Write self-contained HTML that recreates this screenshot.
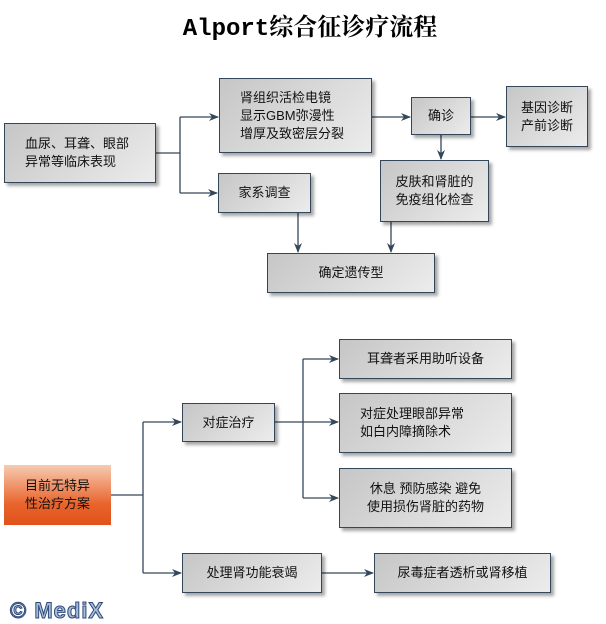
<!DOCTYPE html>
<html><head><meta charset="utf-8"><style>
body{margin:0;width:606px;height:622px;background:#fff;position:relative;overflow:hidden;font-family:"Liberation Sans","Noto Sans CJK SC",sans-serif;}
.b{position:absolute;box-sizing:border-box;border:1.5px solid #34475a;background:linear-gradient(135deg,#c6c6c6,#ececec);box-shadow:3px 3px 3px rgba(0,0,0,0.35);font-size:13px;color:#111;display:flex;align-items:center;line-height:18px;}
.c{justify-content:center;text-align:center}
.l{padding-left:20px}
svg{position:absolute;left:0;top:0}
.t{position:absolute;left:7px;width:606px;top:7px;text-align:center;font:bold 24px "Liberation Mono","Noto Serif CJK SC",monospace;letter-spacing:0px}
</style></head><body>
<div class="t">Alport综合征诊疗流程</div>
<svg width="606" height="622">
<defs><marker id="a" markerWidth="10" markerHeight="8" refX="9" refY="4" orient="auto" markerUnits="userSpaceOnUse"><path d="M0,0 L10,4 L0,8 L3,4z" fill="#34475a"/></marker></defs>
<g stroke="#34475a" stroke-width="1.3" fill="none">
<path d="M156,153 H180"/><path d="M180,117 V193"/>
<path d="M180,117 H218" marker-end="url(#a)"/><path d="M180,193 H217" marker-end="url(#a)"/>
<path d="M372,117 H410" marker-end="url(#a)"/><path d="M471,117 H505" marker-end="url(#a)"/>
<path d="M441,135 V159" marker-end="url(#a)"/>
<path d="M298,213 V252" marker-end="url(#a)"/><path d="M391,222 V252" marker-end="url(#a)"/>
<path d="M111,495 H143"/><path d="M143,422 V573"/>
<path d="M143,422 H181" marker-end="url(#a)"/><path d="M143,573 H181" marker-end="url(#a)"/>
<path d="M275,422 H338" marker-end="url(#a)"/><path d="M303,359 V498"/>
<path d="M303,359 H338" marker-end="url(#a)"/><path d="M303,498 H338" marker-end="url(#a)"/>
<path d="M322,573 H373" marker-end="url(#a)"/>
</g></svg>
<div class="b l" style="left:4px;top:123px;width:152px;height:60px">血尿、耳聋、眼部<br>异常等临床表现</div>
<div class="b l" style="left:219px;top:78px;width:153px;height:75px">肾组织活检电镜<br>显示GBM弥漫性<br>增厚及致密层分裂</div>
<div class="b c" style="left:218px;top:173px;width:93px;height:40px">家系调查</div>
<div class="b c" style="left:411px;top:97px;width:60px;height:38px">确诊</div>
<div class="b c" style="left:506px;top:86px;width:82px;height:61px">基因诊断<br>产前诊断</div>
<div class="b c" style="left:380px;top:160px;width:109px;height:62px">皮肤和肾脏的<br>免疫组化检查</div>
<div class="b c" style="left:267px;top:253px;width:168px;height:40px">确定遗传型</div>
<div class="b c" style="left:4px;top:465px;width:107px;height:60px;border:none;background:linear-gradient(#f7cbb2,#e8642c 65%,#e0521a);box-shadow:none">目前无特异<br>性治疗方案</div>
<div class="b c" style="left:182px;top:403px;width:93px;height:39px">对症治疗</div>
<div class="b c" style="left:339px;top:339px;width:173px;height:40px">耳聋者采用助听设备</div>
<div class="b l" style="left:339px;top:393px;width:173px;height:60px">对症处理眼部异常<br>如白内障摘除术</div>
<div class="b c" style="left:339px;top:468px;width:173px;height:60px">休息 预防感染 避免<br>使用损伤肾脏的药物</div>
<div class="b c" style="left:182px;top:553px;width:140px;height:40px">处理肾功能衰竭</div>
<div class="b c" style="left:374px;top:553px;width:177px;height:40px">尿毒症者透析或肾移植</div>
<div style="position:absolute;left:10px;top:598px;font:bold 22px 'Liberation Sans',sans-serif;color:#a8bcd8;-webkit-text-stroke:1px #2e4a7a;letter-spacing:1px">© MediX</div>
</body></html>
